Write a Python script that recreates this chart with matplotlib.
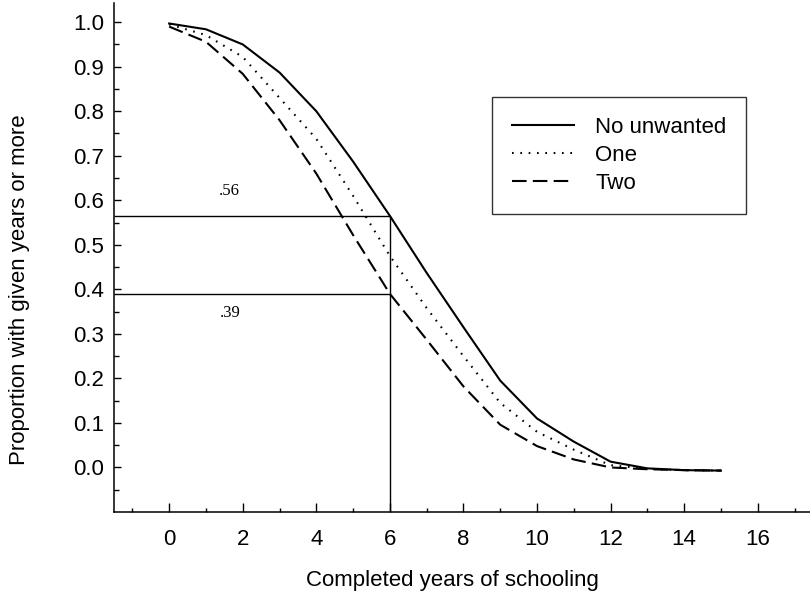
import numpy as np
import matplotlib
matplotlib.use("Agg")
import matplotlib.pyplot as plt
from matplotlib.ticker import FormatStrFormatter

# data
years = [0, 1, 2, 3, 4, 5, 6, 7, 8, 9, 10, 11, 12, 13, 14, 15]
no_unwanted = [0.997, 0.984, 0.950, 0.887, 0.800, 0.687, 0.565, 0.437,
               0.315, 0.195, 0.110, 0.058, 0.013, -0.002, -0.006, -0.007]
one_unwanted = [0.995, 0.971, 0.922, 0.830, 0.738, 0.610, 0.475, 0.358,
                0.250, 0.145, 0.080, 0.040, 0.005, -0.003, -0.006, -0.007]
two_unwanted = [0.990, 0.956, 0.884, 0.780, 0.660, 0.522, 0.390, 0.287,
                0.182, 0.096, 0.048, 0.018, 0.000, -0.004, -0.006, -0.007]
series_names = ["No unwanted", "One", "Two"]

ref_year = 6
ref_levels = [0.565, 0.39]
ref_labels = [".56", ".39"]
ref_label_pos = [(1.65, 0.621), (1.65, 0.348)]

x_major = [0, 2, 4, 6, 8, 10, 12, 14, 16]
x_minor = [-1, 1, 3, 5, 7, 9, 11, 13, 15, 17]
y_major = np.round(np.arange(0, 1.01, 0.1), 2)
y_minor = np.round(np.arange(-0.05, 1.0, 0.1), 2)

plt.rcParams["font.family"] = ["Liberation Sans", "DejaVu Sans"]
plt.rcParams["font.size"] = 16

fig = plt.figure(figsize=(8.1, 6.02), dpi=100)
ax = fig.add_axes([0.1407, 0.1495, 0.8593, 0.8455])

xmin, xmax = -1.5, 17.42
ymin, ymax = -0.1, 1.043
ax.set_xlim(xmin, xmax)
ax.set_ylim(ymin, ymax)

lw = 1.5
ax.plot(years, no_unwanted, color="black", lw=lw, label=series_names[0])
ax.plot(years, one_unwanted, color="black", lw=lw, linestyle=(0, (0.8, 3.2)),
        label=series_names[1])
ax.plot(years, two_unwanted, color="black", lw=lw, linestyle=(0, (7, 3)),
        label=series_names[2])

# reference lines at 6 years
ax.hlines(ref_levels, xmin, ref_year, color="black", lw=1.0)
ax.vlines(ref_year, ymin, max(ref_levels), color="black", lw=1.0)
for txt, (tx, ty) in zip(ref_labels, ref_label_pos):
    ax.text(tx, ty, txt, family=["Liberation Serif", "DejaVu Serif"],
            fontsize=12, ha="center", va="center")

# axes styling
for side in ["top", "right"]:
    ax.spines[side].set_visible(False)
for side in ["left", "bottom"]:
    ax.spines[side].set_linewidth(1.1)

ax.set_xticks(x_major)
ax.set_xticks(x_minor, minor=True)
ax.set_yticks(y_major)
ax.set_yticks(y_minor, minor=True)
ax.yaxis.set_major_formatter(FormatStrFormatter("%.1f"))

ax.tick_params(axis="x", which="major", direction="in", length=6.5, width=1.0,
               pad=12, labelsize=16)
ax.tick_params(axis="x", which="minor", direction="in", length=3, width=1.0)
ax.tick_params(axis="y", which="major", direction="in", length=5, width=1.0,
               pad=7, labelsize=16)
ax.tick_params(axis="y", which="minor", direction="in", length=3.5, width=1.0)

ax.set_xlabel("Completed years of schooling", fontsize=16)
ax.set_ylabel("Proportion with given years or more", fontsize=16)
ax.xaxis.set_label_coords(0.486, -0.114)
ax.yaxis.set_label_coords(-0.121, 0.436)

leg = ax.legend(loc="upper left", bbox_to_anchor=(0.543, 0.815), borderaxespad=0,
                fontsize=16, handlelength=2.8, handletextpad=0.95,
                labelspacing=0.3, borderpad=0.9, fancybox=False,
                framealpha=1)
leg.get_frame().set_edgecolor("#333333")
leg.get_frame().set_linewidth(1.0)

fig.savefig("out.png", dpi=100)
